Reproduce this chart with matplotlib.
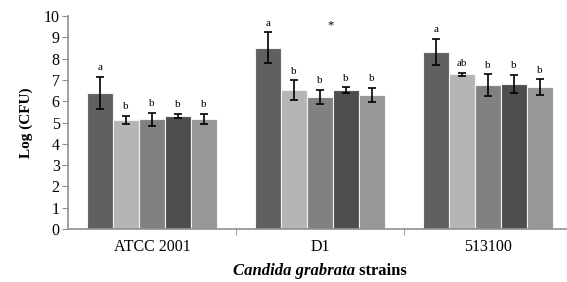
import matplotlib.pyplot as plt
import numpy as np

plt.rcParams['font.family'] = ['Liberation Serif', 'DejaVu Serif']

strains = ['ATCC 2001', 'D1', '513100']
# five treatments per strain
means = [
    [6.38, 5.13, 5.15, 5.31, 5.18],
    [8.52, 6.52, 6.20, 6.53, 6.30],
    [8.32, 7.27, 6.75, 6.82, 6.65],
]
errs = [
    [0.76, 0.20, 0.31, 0.10, 0.23],
    [0.72, 0.46, 0.35, 0.12, 0.34],
    [0.60, 0.07, 0.51, 0.41, 0.38],
]
letters = [
    ['a', 'b', 'b', 'b', 'b'],
    ['a', 'b', 'b', 'b', 'b'],
    ['a', 'ab', 'b', 'b', 'b'],
]
colors = ['#606060', '#b5b5b5', '#818181', '#4e4e4e', '#979797']

fig = plt.figure(figsize=(5.67, 2.82), dpi=100)
ax = fig.add_axes([0.12, 0.188, 0.88, 0.755])

means = np.array(means)
errs = np.array(errs)
x = np.arange(len(strains))
w = 0.155
for j in range(5):
    xs = x + (j - 2) * w
    ax.bar(xs, means[:, j], w, color=colors[j], edgecolor='#f2f2f2', linewidth=0.8,
           yerr=errs[:, j], error_kw=dict(ecolor='black', elinewidth=1.2, capsize=3, capthick=1.2))
    for i in range(len(strains)):
        ax.text(xs[i], means[i, j] + errs[i, j] + 0.22, letters[i][j], ha='center', va='bottom',
                fontsize=8)

ax.text(1.065, 9.55, '*', ha='center', va='center', fontsize=9)

ax.set_xlim(-0.5, 2.47)
ax.set_ylim(0, 10)
ax.set_yticks(range(0, 11))
ax.set_xticks(x)
ax.set_xticklabels(strains, fontsize=11.5)
ax.set_xticks([0.5, 1.5], minor=True)
ax.tick_params(axis='x', which='major', length=0, pad=7)
ax.tick_params(axis='x', which='minor', length=4, color='#909090')
ax.tick_params(axis='y', length=4, color='#909090', labelsize=11.5, pad=2)
for s in ['top', 'right']:
    ax.spines[s].set_visible(False)
for s in ['left', 'bottom']:
    ax.spines[s].set_color('#909090')
    ax.spines[s].set_linewidth(1.2)

ax.set_ylabel('Log (CFU)', fontsize=11, fontweight='bold', labelpad=8)

# x label: italic genus name followed by plain-bold "strains", centred under the plot
t = fig.text(0.4, 0.012, 'Candida grabrata', fontsize=12, fontweight='bold', style='italic',
             ha='left', va='bottom')
t2 = ax.annotate(' strains', xy=(1, 0), xycoords=t, va='bottom', fontsize=12, fontweight='bold')
fig.canvas.draw()
r = fig.canvas.get_renderer()
b1 = t.get_window_extent(r)
b2 = t2.get_window_extent(r)
mid = (b1.x0 + b2.x1) / 2
t.set_x(0.4 + (320 - mid) / fig.bbox.width)

fig.savefig('out.png', dpi=100)
